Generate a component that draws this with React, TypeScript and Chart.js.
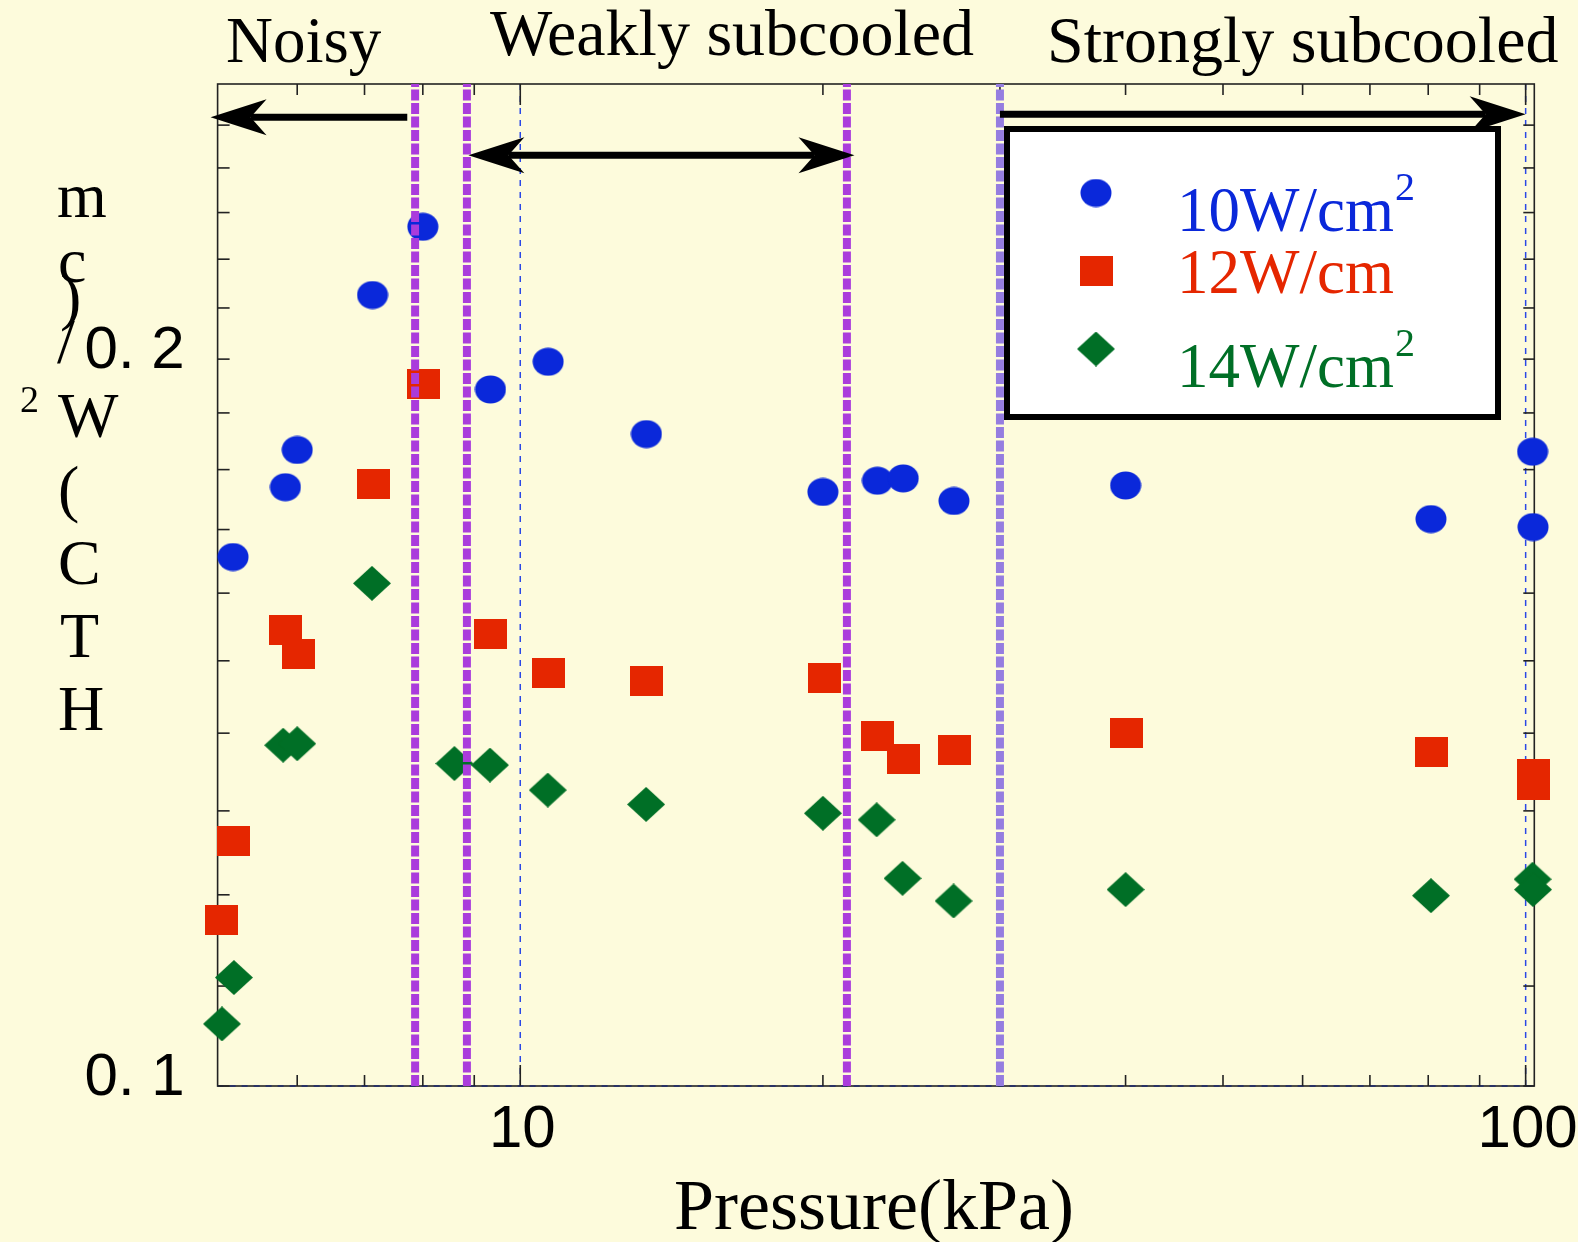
import React, { useEffect, useRef } from "react";
import { Chart, registerables } from "chart.js";

Chart.register(...registerables);

// ---------------- data ----------------
const SERIES_NAMES = ["10W/cm", "12W/cm", "14W/cm"];
const SERIES_SUPERSCRIPT = ["2", "", "2"];
const SERIES_COLORS = ["#0A28DA", "#E52600", "#006F26"];
const SERIES_SHAPES = ["ellipse", "square", "diamond"];

const PRESSURE_10 = [5.18, 5.84, 6.0, 7.13, 8.0, 9.34, 10.66, 13.35, 20.0, 22.66, 24.04, 27.0, 40.0, 80.5, 101.6, 101.7];
const HTC_10 = [0.1656, 0.177, 0.1834, 0.2126, 0.2269, 0.1943, 0.1995, 0.1862, 0.1762, 0.1781, 0.1785, 0.1747, 0.1773, 0.1717, 0.1831, 0.1704];

const PRESSURE_12 = [5.05, 5.18, 5.84, 6.02, 7.14, 8.01, 9.34, 10.67, 13.35, 20.05, 22.67, 24.07, 27.05, 40.1, 80.6, 101.7, 101.7];
const HTC_12 = [0.1172, 0.1263, 0.1545, 0.151, 0.1776, 0.1953, 0.1539, 0.1482, 0.1471, 0.1475, 0.1396, 0.1366, 0.1378, 0.14, 0.1375, 0.1347, 0.1332];

const PRESSURE_14 = [5.05, 5.19, 5.81, 6.0, 7.12, 8.6, 9.33, 10.65, 13.34, 20.0, 22.62, 24.0, 26.98, 40.0, 80.5, 101.6, 101.7];
const HTC_14 = [0.1061, 0.1109, 0.1384, 0.1386, 0.1615, 0.136, 0.1358, 0.1326, 0.1308, 0.1297, 0.1289, 0.1219, 0.1193, 0.1206, 0.1199, 0.1218, 0.1206];

const BOUNDARY_PRESSURE = [7.86, 8.85, 21.13, 30.0];
const BOUNDARY_COLORS = ["#AA3CDC", "#AA3CDC", "#AA3CDC", "#957DE0"];

const REGION_LABELS = ["Noisy", "Weakly subcooled", "Strongly subcooled"];
const ARROW_FROM = [7.72, 8.88, 30.0];
const ARROW_TO = [4.92, 21.5, 100];
const ARROW_HTC = [0.2519, 0.2429, 0.2526];
const ARROW_DOUBLE = [false, true, false];

const X_MIN = 5;
const X_MAX = 102;
const Y_MIN = 0.1;
const Y_MAX = 0.26;
const X_LABELLED_TICKS = [10, 100];
const X_MINOR_TICKS = [6, 7, 8, 9, 20, 30, 40, 50, 60, 70, 80, 90];
const Y_LABELLED_TICKS = [0.1, 0.2];
const Y_TICK_TEXT = ["0. 1", "0. 2"];
const Y_MINOR_TICKS = [0.11, 0.12, 0.13, 0.14, 0.15, 0.16, 0.17, 0.18, 0.19, 0.21, 0.22, 0.23, 0.24, 0.25];
const X_TITLE = "Pressure(kPa)";
const Y_TITLE_CHARS = ["m", "c", ")", "/", "2", "W", "(", "C", "T", "H"];

// ---------------- styling ----------------
const W = 1578;
const H = 1242;
const BG = "#FDFBDC";
const SERIF = '"Liberation Serif", "Times New Roman", serif';
const SANS = '"Liberation Sans", Arial, sans-serif';

function makeMarker(shape: string, color: string): HTMLCanvasElement {
  const c = document.createElement("canvas");
  const ctx = c.getContext("2d")!;
  if (shape === "ellipse") {
    c.width = 32; c.height = 29;
    ctx.fillStyle = color;
    ctx.beginPath();
    ctx.ellipse(16, 14.5, 15.5, 14, 0, 0, Math.PI * 2);
    ctx.fill();
  } else if (shape === "square") {
    c.width = 33; c.height = 30;
    ctx.fillStyle = color;
    ctx.fillRect(0, 0, 33, 30);
  } else {
    c.width = 38; c.height = 35;
    ctx.fillStyle = color;
    ctx.beginPath();
    ctx.moveTo(19, 0); ctx.lineTo(38, 17.5); ctx.lineTo(19, 35); ctx.lineTo(0, 17.5);
    ctx.closePath();
    ctx.fill();
  }
  return c;
}

function line(ctx: CanvasRenderingContext2D, x1: number, y1: number, x2: number, y2: number) {
  ctx.beginPath(); ctx.moveTo(x1, y1); ctx.lineTo(x2, y2); ctx.stroke();
}

function arrowHead(ctx: CanvasRenderingContext2D, tipX: number, y: number, dir: number) {
  const L = 56, HW = 18, N = 40;
  ctx.beginPath();
  ctx.moveTo(tipX, y);
  ctx.lineTo(tipX - dir * L, y - HW);
  ctx.lineTo(tipX - dir * N, y);
  ctx.lineTo(tipX - dir * L, y + HW);
  ctx.closePath();
  ctx.fill();
}

export default function App() {
  const ref = useRef<HTMLCanvasElement>(null);

  useEffect(() => {
    const canvas = ref.current!;
    const markers = SERIES_SHAPES.map((s, i) => makeMarker(s, SERIES_COLORS[i]));
    const seriesX = [PRESSURE_10, PRESSURE_12, PRESSURE_14];
    const seriesY = [HTC_10, HTC_12, HTC_14];

    const scatterSets = seriesX.map((xs, i) => ({
      type: "scatter" as const,
      label: SERIES_NAMES[i] + SERIES_SUPERSCRIPT[i],
      data: xs.map((x, j) => ({ x, y: seriesY[i][j] })),
      pointStyle: markers[i],
      pointRadius: 16,
      pointHoverRadius: 16,
      backgroundColor: SERIES_COLORS[i],
      borderWidth: 0,
      clip: false as const,
      order: 10 + i,
    }));

    const boundarySets = BOUNDARY_PRESSURE.map((p, i) => ({
      type: "line" as const,
      label: "boundary" + i,
      data: [{ x: p, y: Y_MIN }, { x: p, y: Y_MAX }],
      borderColor: BOUNDARY_COLORS[i],
      borderWidth: 8,
      borderDash: [11, 2.5],
      borderCapStyle: "butt" as const,
      pointRadius: 0,
      fill: false,
      order: 0,
    }));

    const decor = {
      id: "decor",
      beforeDraw(chart: any) {
        const ctx = chart.ctx as CanvasRenderingContext2D;
        ctx.save();
        ctx.fillStyle = BG;
        ctx.fillRect(0, 0, chart.width, chart.height);
        ctx.restore();
      },
      beforeDatasetsDraw(chart: any) {
        const ctx = chart.ctx as CanvasRenderingContext2D;
        const a = chart.chartArea;
        const xs = chart.scales.x;
        const ys = chart.scales.y;
        ctx.save();
        // dashed blue grid lines at labelled decades
        ctx.strokeStyle = "#2A48E6";
        ctx.lineWidth = 1.5;
        ctx.setLineDash([6, 6]);
        for (const v of X_LABELLED_TICKS) {
          const px = xs.getPixelForValue(v);
          line(ctx, px, a.top, px, a.bottom);
        }
        ctx.setLineDash([]);
        // frame
        ctx.strokeStyle = "#222";
        ctx.lineWidth = 1.6;
        ctx.strokeRect(a.left, a.top, a.right - a.left, a.bottom - a.top);
        ctx.strokeStyle = "#1E2A70";
        ctx.lineWidth = 1.5;
        ctx.setLineDash([6, 6]);
        line(ctx, a.left, a.bottom, a.right, a.bottom);
        ctx.setLineDash([]);
        // ticks
        ctx.strokeStyle = "#222";
        ctx.lineWidth = 1.6;
        for (const v of X_MINOR_TICKS) {
          const px = xs.getPixelForValue(v);
          line(ctx, px, a.bottom, px, a.bottom - 11);
          line(ctx, px, a.top, px, a.top + 11);
        }
        for (const v of X_LABELLED_TICKS) {
          const px = xs.getPixelForValue(v);
          line(ctx, px, a.bottom, px, a.bottom - 21);
          line(ctx, px, a.top, px, a.top + 21);
        }
        for (const v of [...Y_MINOR_TICKS, ...Y_LABELLED_TICKS]) {
          const py = ys.getPixelForValue(v);
          line(ctx, a.left, py, a.left + 12, py);
          line(ctx, a.right, py, a.right - 11, py);
        }
        // tick labels
        ctx.fillStyle = "#000";
        ctx.font = `60px ${SANS}`;
        ctx.textAlign = "right";
        ctx.textBaseline = "middle";
        Y_LABELLED_TICKS.forEach((v, i) => {
          ctx.fillText(Y_TICK_TEXT[i], a.left - 33, ys.getPixelForValue(v) - 8);
        });
        ctx.textAlign = "center";
        ctx.textBaseline = "top";
        X_LABELLED_TICKS.forEach((v) => {
          ctx.fillText(String(v), xs.getPixelForValue(v) + 2, a.bottom + 14);
        });
        // axis titles
        ctx.font = `72px ${SERIF}`;
        ctx.textBaseline = "alphabetic";
        ctx.fillText(X_TITLE, (a.left + a.right) / 2 - 2, 1229);
        const yPos = [
          [57, 217, 64], [58, 282, 64], [60, 318, 64], [57, 363, 64], [20, 412, 38],
          [58, 437, 64], [58, 510, 64], [58, 584, 64], [60, 657, 64], [58, 730, 64],
        ];
        ctx.textAlign = "left";
        Y_TITLE_CHARS.forEach((ch, i) => {
          const [x, y, s] = yPos[i];
          ctx.font = `${s}px ${SERIF}`;
          ctx.fillText(ch, x, y);
        });
        ctx.restore();
      },
      afterDatasetsDraw(chart: any) {
        const ctx = chart.ctx as CanvasRenderingContext2D;
        const xs = chart.scales.x;
        const ys = chart.scales.y;
        ctx.save();
        // arrows
        ctx.fillStyle = "#000";
        ctx.strokeStyle = "#000";
        ctx.lineWidth = 7;
        ARROW_FROM.forEach((f, i) => {
          const fx = xs.getPixelForValue(f);
          const tx = xs.getPixelForValue(ARROW_TO[i]);
          const y = ys.getPixelForValue(ARROW_HTC[i]);
          const dir = Math.sign(tx - fx);
          const startX = ARROW_DOUBLE[i] ? fx + dir * 40 : fx;
          line(ctx, startX, y, tx - dir * 40, y);
          arrowHead(ctx, tx, y, dir);
          if (ARROW_DOUBLE[i]) arrowHead(ctx, fx, y, -dir);
        });
        // region labels
        ctx.textAlign = "left";
        ctx.textBaseline = "alphabetic";
        ctx.font = `65px ${SERIF}`;
        ctx.fillText(REGION_LABELS[0], 226, 62);
        ctx.font = `66px ${SERIF}`;
        ctx.fillText(REGION_LABELS[1], 490, 55);
        ctx.fillText(REGION_LABELS[2], 1047, 62);
        // legend
        ctx.fillStyle = "#FFFFFF";
        ctx.fillRect(1004, 126, 497, 294);
        ctx.lineWidth = 6;
        ctx.strokeStyle = "#000";
        ctx.strokeRect(1007, 129, 491, 288);
        const markerY = [193, 271, 349];
        const textY = [231, 293, 387];
        SERIES_NAMES.forEach((name, i) => {
          const m = markers[i];
          ctx.drawImage(m, 1096 - m.width / 2, markerY[i] - m.height / 2);
          ctx.fillStyle = SERIES_COLORS[i];
          ctx.font = `63px ${SERIF}`;
          ctx.fillText(name, 1177, textY[i]);
          if (SERIES_SUPERSCRIPT[i]) {
            const w = ctx.measureText(name).width;
            ctx.font = `40px ${SERIF}`;
            ctx.fillText(SERIES_SUPERSCRIPT[i], 1177 + w + 1, textY[i] - 31);
          }
        });
        ctx.restore();
      },
    };

    const chart = new Chart(canvas, {
      type: "scatter",
      data: { datasets: [...boundarySets, ...scatterSets] as any },
      options: {
        responsive: false,
        devicePixelRatio: 1,
        animation: false,
        events: [],
        layout: { padding: { left: 217.6, right: W - 1534.3, top: 84, bottom: H - 1086 } },
        plugins: { legend: { display: false }, tooltip: { enabled: false }, title: { display: false } },
        scales: {
          x: { type: "logarithmic", min: X_MIN, max: X_MAX, display: false },
          y: { type: "logarithmic", min: Y_MIN, max: Y_MAX, display: false },
        },
      },
      plugins: [decor],
    });
    return () => chart.destroy();
  }, []);

  return (
    <div style={{ position: "fixed", left: 0, top: 0, width: W, height: H, background: BG }}>
      <canvas ref={ref} width={W} height={H} style={{ width: W, height: H, display: "block" }} />
    </div>
  );
}
